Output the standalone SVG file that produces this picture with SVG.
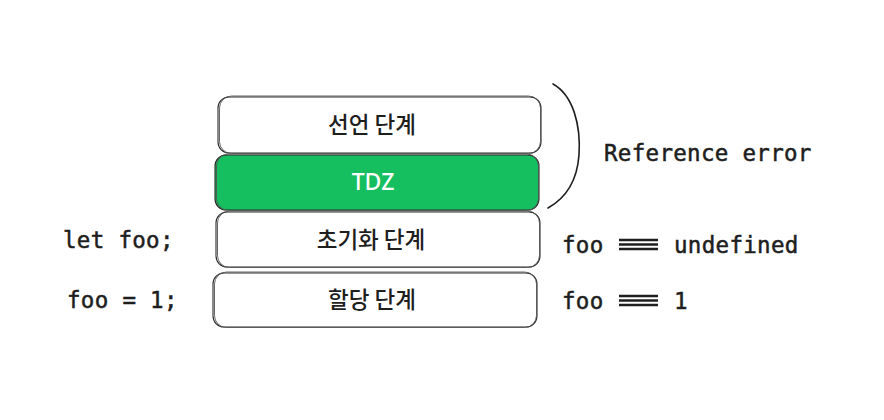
<svg xmlns="http://www.w3.org/2000/svg" width="884" height="420" viewBox="0 0 884 420">
<style>
.box{fill:#fff;stroke:#2a2a2a;stroke-width:1.1}
.sk{fill:none;stroke:#555;stroke-width:0.9}
.tdz{fill:#15bf5f;stroke:#2a2a2a;stroke-width:1.1}
.kr{font-family:"Noto Sans CJK KR","Noto Sans",sans-serif;font-size:22.5px;font-weight:500;fill:#1e1e1e;text-anchor:middle}
.code{font-family:"DejaVu Sans Mono","Liberation Mono",monospace;font-size:22.5px;fill:#1e1e1e;stroke:#1e1e1e;stroke-width:0.5;letter-spacing:0.3px}
</style>
<rect width="884" height="420" fill="#fff"/>
<g id="node-declare">
<rect class="box" x="218" y="97" width="323" height="56" rx="11"/>
<rect class="sk" x="219.5" y="96" width="321" height="57.5" rx="12"/>
<text class="kr" x="372" y="133">선언 단계</text>
</g>
<g id="node-tdz">
<rect class="tdz" x="215" y="155" width="324" height="55" rx="11"/>
<rect class="sk" x="216.5" y="154" width="322" height="56.5" rx="12"/>
<text class="kr" x="373" y="190" style="fill:#fff;font-family:'Noto Sans','Liberation Sans',sans-serif;font-size:23px">TDZ</text>
</g>
<g id="node-init">
<rect class="box" x="216" y="212" width="324" height="55" rx="11"/>
<rect class="sk" x="217.5" y="211" width="322" height="56.5" rx="12"/>
<text class="kr" x="371" y="248">초기화 단계</text>
</g>
<g id="node-assign">
<rect class="box" x="213" y="273" width="324" height="54" rx="11"/>
<rect class="sk" x="214.5" y="272" width="322" height="55.5" rx="12"/>
<text class="kr" x="372" y="308">할당 단계</text>
</g>
<g id="connectors">
<path d="M553,84 C573,95 581,125 579,155 C577,182 566,198 548,208" fill="none" stroke="#1e1e1e" stroke-width="1.6" stroke-linecap="round"/>
</g>
<g id="labels">
<text class="code" x="604" y="161">Reference error</text>
<text class="code" x="63" y="248">let foo;</text>
<text class="code" x="67" y="308">foo = 1;</text>
<text class="code" x="562" y="253">foo</text>
<text class="code" x="674" y="253">undefined</text>
<text class="code" x="562" y="309">foo</text>
<text class="code" x="674" y="309">1</text>
<g stroke="#1e1e1e" stroke-width="2.4">
<line x1="619" y1="240" x2="658" y2="240"/><line x1="619" y1="244.5" x2="658" y2="244.5"/><line x1="619" y1="249" x2="658" y2="249"/>
<line x1="619" y1="296" x2="658" y2="296"/><line x1="619" y1="300.5" x2="658" y2="300.5"/><line x1="619" y1="305" x2="658" y2="305"/>
</g>
</g>
</svg>
